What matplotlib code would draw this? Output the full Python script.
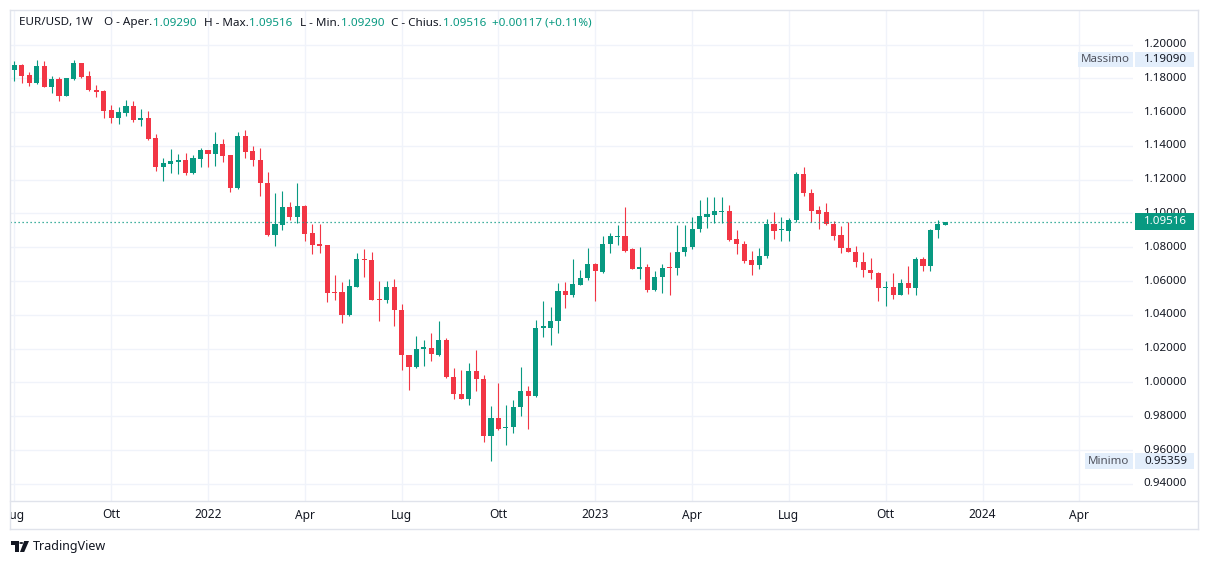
"""
EUR/USD weekly candlestick chart, TradingView style.
"""
import matplotlib
matplotlib.use("Agg")
import matplotlib.pyplot as plt
import matplotlib.dates as mdates
from matplotlib.patches import Rectangle, Polygon, Circle
from matplotlib.transforms import Bbox, TransformedBbox, blended_transform_factory
import pandas as pd

# Weekly bars, first bar on this Monday
FIRST_WEEK = "2021-07-05"

opens = [1.1852, 1.1876, 1.1817, 1.1771, 1.1870, 1.1748, 1.1793, 1.1695, 1.1793, 1.1888,
         1.1811, 1.1728, 1.1722, 1.1610, 1.1565, 1.1594, 1.1639, 1.1554, 1.1568, 1.1444,
         1.1274, 1.1292, 1.1304, 1.1314, 1.1239, 1.1322, 1.1373, 1.1351, 1.1414, 1.1344,
         1.1149, 1.1456, 1.1367, 1.1319, 1.1183, 1.0870, 1.0929, 1.1041, 1.0978, 1.1047,
         1.0884, 1.0817, 1.0811, 1.0533, 1.0533, 1.0399, 1.0565, 1.0726, 1.0727, 1.0491,
         1.0487, 1.0568, 1.0431, 1.0165, 1.0090, 1.0199, 1.0207, 1.0165, 1.0254, 1.0035,
         0.9934, 0.9901, 1.0070, 1.0023, 0.9682, 0.9792, 0.9729, 0.9735, 0.9853, 0.9952,
         0.9923, 1.0323, 1.0325, 1.0362, 1.0544, 1.0516, 1.0579, 1.0617, 1.0704, 1.0654,
         1.0818, 1.0860, 1.0869, 1.0787, 1.0670, 1.0686, 1.0546, 1.0625, 1.0678, 1.0676,
         1.0771, 1.0800, 1.0909, 1.0978, 1.0990, 1.1008, 1.1017, 1.0852, 1.0822, 1.0722,
         1.0694, 1.0747, 1.0940, 1.0901, 1.0899, 1.0960, 1.1231, 1.1124, 1.1023, 1.1006,
         1.0940, 1.0875, 1.0798, 1.0775, 1.0715, 1.0668, 1.0650, 1.0558, 1.0568, 1.0516,
         1.0591, 1.0558, 1.0733, 1.0688, 1.0901, 1.09290]
highs = [1.1900, 1.1882, 1.1835, 1.1909, 1.1900, 1.1811, 1.1805, 1.1803, 1.1909, 1.1890,
         1.1846, 1.1758, 1.1728, 1.1641, 1.1628, 1.1669, 1.1668, 1.1619, 1.1609, 1.1468,
         1.1330, 1.1383, 1.1353, 1.1359, 1.1344, 1.1385, 1.1377, 1.1485, 1.1438, 1.1346,
         1.1485, 1.1497, 1.1398, 1.1388, 1.1248, 1.1124, 1.1136, 1.1071, 1.1183, 1.1053,
         1.0935, 1.0935, 1.0811, 1.0639, 1.0592, 1.0610, 1.0764, 1.0788, 1.0775, 1.0603,
         1.0603, 1.0615, 1.0463, 1.0165, 1.0277, 1.0254, 1.0295, 1.0366, 1.0264, 1.0088,
         1.0076, 1.0118, 1.0195, 1.0047, 0.9863, 0.9999, 0.9869, 0.9899, 1.0094, 0.9982,
         1.0372, 1.0483, 1.0449, 1.0587, 1.0597, 1.0733, 1.0668, 1.0793, 1.0710, 1.0869,
         1.0887, 1.0931, 1.1037, 1.0795, 1.0804, 1.0700, 1.0658, 1.0704, 1.0771, 1.0929,
         1.0931, 1.0978, 1.1077, 1.1096, 1.1096, 1.1100, 1.1053, 1.0905, 1.0836, 1.0781,
         1.0793, 1.0970, 1.1011, 1.0978, 1.0974, 1.1248, 1.1276, 1.1146, 1.1047, 1.1065,
         1.0958, 1.0927, 1.0948, 1.0810, 1.0775, 1.0739, 1.0656, 1.0603, 1.0645, 1.0615,
         1.0692, 1.0745, 1.0741, 1.0909, 1.0964, 1.09516]
lows = [1.1783, 1.1775, 1.1754, 1.1766, 1.1748, 1.1712, 1.1665, 1.1695, 1.1787, 1.1803,
        1.1722, 1.1689, 1.1565, 1.1535, 1.1529, 1.1576, 1.1540, 1.1517, 1.1432, 1.1251,
        1.1192, 1.1239, 1.1231, 1.1225, 1.1236, 1.1274, 1.1274, 1.1284, 1.1304, 1.1127,
        1.1145, 1.1329, 1.1282, 1.1106, 1.0866, 1.0805, 1.0900, 1.0959, 1.0945, 1.0835,
        1.0760, 1.0766, 1.0476, 1.0486, 1.0352, 1.0393, 1.0565, 1.0627, 1.0487, 1.0362,
        1.0469, 1.0333, 1.0072, 0.9954, 1.0086, 1.0096, 1.0126, 1.0159, 1.0025, 0.9901,
        0.9901, 0.9865, 0.9948, 0.9646, 0.9536, 0.9721, 0.9629, 0.9703, 0.9804, 0.9727,
        0.9917, 1.0272, 1.0224, 1.0291, 1.0443, 1.0504, 1.0575, 1.0605, 1.0485, 1.0650,
        1.0765, 1.0814, 1.0775, 1.0670, 1.0615, 1.0538, 1.0542, 1.0528, 1.0516, 1.0635,
        1.0747, 1.0791, 1.0889, 1.0913, 1.0942, 1.0944, 1.0840, 1.0759, 1.0706, 1.0635,
        1.0670, 1.0735, 1.0848, 1.0836, 1.0836, 1.0948, 1.1106, 1.0948, 1.0911, 1.0931,
        1.0846, 1.0765, 1.0771, 1.0686, 1.0627, 1.0615, 1.0485, 1.0451, 1.0494, 1.0516,
        1.0524, 1.0516, 1.0660, 1.0662, 1.0854, 1.09290]
closes = [1.1876, 1.1813, 1.1771, 1.1870, 1.1748, 1.1793, 1.1695, 1.1799, 1.1888, 1.1810,
          1.1728, 1.1718, 1.1606, 1.1565, 1.1598, 1.1639, 1.1554, 1.1568, 1.1440, 1.1274,
          1.1296, 1.1308, 1.1314, 1.1239, 1.1326, 1.1373, 1.1351, 1.1414, 1.1340, 1.1153,
          1.1456, 1.1363, 1.1315, 1.1179, 1.0870, 1.0935, 1.1041, 1.0978, 1.1047, 1.0880,
          1.0811, 1.0807, 1.0529, 1.0529, 1.0399, 1.0569, 1.0728, 1.0722, 1.0487, 1.0487,
          1.0568, 1.0427, 1.0161, 1.0090, 1.0201, 1.0209, 1.0167, 1.0254, 1.0031, 0.9930,
          0.9901, 1.0070, 1.0019, 0.9682, 0.9792, 0.9727, 0.9739, 0.9857, 0.9952, 0.9923,
          1.0325, 1.0329, 1.0366, 1.0544, 1.0516, 1.0585, 1.0621, 1.0704, 1.0658, 1.0822,
          1.0864, 1.0869, 1.0781, 1.0670, 1.0686, 1.0546, 1.0625, 1.0678, 1.0676, 1.0775,
          1.0804, 1.0909, 1.0984, 1.0996, 1.1013, 1.1017, 1.0846, 1.0818, 1.0718, 1.0694,
          1.0749, 1.0940, 1.0899, 1.0905, 1.0964, 1.1231, 1.1120, 1.1017, 1.0999, 1.0936,
          1.0869, 1.0793, 1.0771, 1.0711, 1.0664, 1.0646, 1.0558, 1.0568, 1.0516, 1.0589,
          1.0558, 1.0733, 1.0688, 1.0905, 1.0940, 1.09516]

last_price = 1.09516
max_price = 1.19090
min_price = 0.95359

price_ticks = [0.94, 0.96, 0.98, 1.00, 1.02, 1.04, 1.06, 1.08, 1.10, 1.12, 1.14, 1.16, 1.18, 1.20]
time_tick_dates = ["2021-07-05", "2021-10-04", "2022-01-03", "2022-04-04", "2022-07-04", "2022-10-03",
                   "2023-01-02", "2023-04-03", "2023-07-03", "2023-10-02", "2024-01-01", "2024-04-01"]
time_tick_labels = ["Lug", "Ott", "2022", "Apr", "Lug", "Ott", "2023", "Apr", "Lug", "Ott", "2024", "Apr"]

header = [("EUR/USD, 1W", "dark", 11), ("O - Aper.", "dark", 1), ("1.09290", "green", 7),
          ("H - Max.", "dark", 1), ("1.09516", "green", 7), ("L - Min.", "dark", 1),
          ("1.09290", "green", 7), ("C - Chius.", "dark", 1), ("1.09516", "green", 6),
          ("+0.00117 (+0.11%)", "green", 0)]

# Colours
GREEN = "#089981"
RED = "#F23645"
TEXT = "#131722"
GRID = "#F0F3FA"
BORDER = "#E0E3EB"
LABEL_BG = "#E3EEFB"

plt.rcParams['font.family'] = ['Noto Sans', 'DejaVu Sans']

W, H = 1209, 564


def fx(px):
    return px / W


def fy(py):
    return 1 - py / H


fig = plt.figure(figsize=(W / 100, H / 100), dpi=100)
fig.patch.set_facecolor("white")

ax = fig.add_axes([fx(10), fy(501), fx(1133) - fx(10), fy(10) - fy(501)])
ax.set_facecolor("white")
for s in ax.spines.values():
    s.set_visible(False)
ax.set_xticks([])
ax.set_yticks([])

# Scale: 0.02 per 33.8 px, 1.20 at y=44.5 px
ax.set_ylim(1.2 - (501 - 44.5) * 0.02 / 33.8, 1.2 + (44.5 - 10) * 0.02 / 33.8)

dates = pd.date_range(FIRST_WEEK, periods=len(opens), freq="7D")
xs = mdates.date2num(dates)
px_per_day = 7.448 / 7
x_left = xs[0] - (14.3 - 10) / px_per_day
ax.set_xlim(x_left, x_left + 1123 / px_per_day)

# Grid
tick_x = mdates.date2num(pd.to_datetime(time_tick_dates))
for t in tick_x:
    ax.axvline(t, color=GRID, lw=1, zorder=0)
for p in price_ticks:
    ax.axhline(p, color=GRID, lw=1, zorder=0)

# Candles
colors = [GREEN if c >= o else RED for o, c in zip(opens, closes)]
bottoms = [min(o, c) for o, c in zip(opens, closes)]
heights = [max(abs(c - o), 0.0009) for o, c in zip(opens, closes)]
ax.vlines(xs, lows, highs, colors=colors, lw=0.8, zorder=2)
ax.bar(xs, heights, bottom=bottoms, width=4.8, color=colors, linewidth=0, zorder=3)

# Last price dotted line
ax.axhline(last_price, color=GREEN, lw=0.9, linestyle=(0, (1, 2.2)), zorder=4)

# Price scale labels (the one behind the last-price tag is cut at the tag's top)
ytrans = blended_transform_factory(fig.transFigure, ax.transData)
tag_clip = TransformedBbox(Bbox([[0, fy(213)], [1, 1]]), fig.transFigure)
for p in price_ticks:
    t = ax.text(fx(1187), p, f"{p:.5f}", transform=ytrans, ha="right", va="center",
                fontsize=8.3, color=TEXT, clip_on=False)
    if abs(p - last_price) < 0.008:
        t.set_clip_box(tag_clip)
        t.set_clip_on(True)

# Time scale labels
xtrans = blended_transform_factory(ax.transData, fig.transFigure)
clip = TransformedBbox(Bbox([[0.1, 0], [W / 100, H / 100]]), fig.dpi_scale_trans)
for t, lab in zip(tick_x, time_tick_labels):
    bold = lab.isdigit()
    txt = ax.text(t, fy(515), lab, transform=xtrans, ha="center", va="center",
                  fontsize=8.6, color=TEXT, fontweight="bold" if bold else "normal")
    txt.set_clip_box(clip)
    txt.set_clip_on(True)


def box(x0, y0, x1, y1, color):
    fig.add_artist(Rectangle((fx(x0), fy(y1)), fx(x1) - fx(x0), fy(y0) - fy(y1),
                             transform=fig.transFigure, facecolor=color,
                             edgecolor="none", zorder=5))


# Last price tag
box(1135, 213, 1194, 230, GREEN)
fig.text(fx(1187), fy(221.5), f"{last_price:.5f}", ha="right", va="center",
         fontsize=8.3, color="white", fontweight="bold", zorder=6)

# High / low tags
box(1078, 51.7, 1133, 67.3, LABEL_BG)
box(1135, 51.7, 1194, 67.3, LABEL_BG)
fig.text(fx(1105.5), fy(59.5), "Massimo", ha="center", va="center",
         fontsize=8.3, color="#50535E", zorder=6)
fig.text(fx(1187), fy(59.5), f"{max_price:.5f}", ha="right", va="center",
         fontsize=8.3, color=TEXT, zorder=6)

box(1085, 453.3, 1133, 469.3, LABEL_BG)
box(1135, 453.3, 1194, 469.3, LABEL_BG)
fig.text(fx(1109), fy(461.3), "Minimo", ha="center", va="center",
         fontsize=8.3, color="#50535E", zorder=6)
fig.text(fx(1187), fy(461.3), f"{min_price:.5f}", ha="right", va="center",
         fontsize=8.3, color=TEXT, zorder=6)

# Pane borders
line_kw = dict(color=BORDER, lw=1, transform=fig.transFigure, zorder=7)
fig.add_artist(plt.Line2D([fx(10), fx(1198)], [fy(10), fy(10)], **line_kw))
fig.add_artist(plt.Line2D([fx(10), fx(1198)], [fy(529), fy(529)], **line_kw))
fig.add_artist(plt.Line2D([fx(10), fx(1198)], [fy(501), fy(501)], **line_kw))
fig.add_artist(plt.Line2D([fx(10), fx(10)], [fy(10), fy(529)], **line_kw))
fig.add_artist(plt.Line2D([fx(1198), fx(1198)], [fy(10), fy(529)], **line_kw))

# Header legend
renderer = fig.canvas.get_renderer()
x = 19
for text, kind, gap in header:
    t = fig.text(fx(x), fy(23), text, ha="left", va="center", fontsize=8.4,
                 color=GREEN if kind == "green" else TEXT, zorder=8)
    bb = t.get_window_extent(renderer)
    x = bb.x1 + gap

# TradingView logo
def pts(lst, ox=11, oy=541):
    return [(fx(ox + a), fy(oy + b)) for a, b in lst]


fig.add_artist(Polygon(pts([(0, 0), (7.5, 0), (7.5, 11), (3.6, 11), (3.6, 4), (0, 4)]),
                       closed=True, transform=fig.transFigure, facecolor=TEXT,
                       edgecolor="none"))
fig.add_artist(Circle((fx(11 + 10.3), fy(541 + 2)), 2.0 / W, transform=fig.transFigure,
                      facecolor=TEXT, edgecolor="none"))
fig.add_artist(Polygon(pts([(13.2, 0), (18, 0), (13.2, 11), (9, 11)]),
                       closed=True, transform=fig.transFigure, facecolor=TEXT,
                       edgecolor="none"))
fig.text(fx(33), fy(546.5), "TradingView", ha="left", va="center",
         fontsize=9, color=TEXT)

fig.savefig("out.png", dpi=100, facecolor="white")
plt.close(fig)
